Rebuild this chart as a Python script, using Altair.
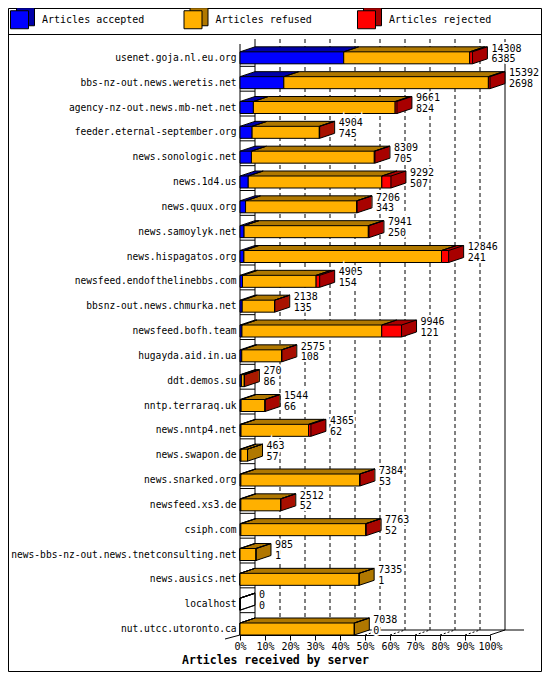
import altair as alt
import pandas as pd

HOSTS = ["usenet.goja.nl.eu.org", "bbs-nz-out.news.weretis.net", "agency-nz-out.news.mb-net.net",
         "feeder.eternal-september.org", "news.sonologic.net", "news.1d4.us", "news.quux.org",
         "news.samoylyk.net", "news.hispagatos.org", "newsfeed.endofthelinebbs.com",
         "bbsnz-out.news.chmurka.net", "newsfeed.bofh.team", "hugayda.aid.in.ua", "ddt.demos.su",
         "nntp.terraraq.uk", "news.nntp4.net", "news.swapon.de", "news.snarked.org",
         "newsfeed.xs3.de", "csiph.com", "news-bbs-nz-out.news.tnetconsulting.net",
         "news.ausics.net", "localhost", "nut.utcc.utoronto.ca"]
TOTAL = [14308, 15392, 9661, 4904, 8309, 9292, 7206, 7941, 12846, 4905, 2138, 9946,
         2575, 270, 1544, 4365, 463, 7384, 2512, 7763, 985, 7335, 0, 7038]
ACCEPTED = [6385, 2698, 824, 745, 705, 507, 343, 250, 241, 154, 135, 121,
            108, 86, 66, 62, 57, 53, 52, 52, 1, 1, 0, 0]
REFUSED = [7758, 12594, 8727, 4139, 7564, 8225, 6838, 7651, 12165, 4531, 1993, 8605,
           2452, 180, 1468, 4163, 406, 7316, 2450, 7691, 984, 7334, 0, 7038]
REJECTED = [165, 100, 110, 20, 40, 560, 25, 40, 440, 220, 10, 1220,
            15, 4, 10, 140, 0, 15, 10, 20, 0, 0, 0, 0]
SERIES = ["Articles accepted", "Articles refused", "Articles rejected"]
TICK_PCT = [0, 10, 20, 30, 40, 50, 60, 70, 80, 90, 100]
X_TITLE = "Articles received by server"

FRONT = ["#0000FF", "#FFB000", "#FF0000"]
DARK = ["#0000A8", "#B07800", "#A80000"]
FONT = "DejaVu Sans Mono"

MAX_T = max(TOTAL)
TOT_W, TOT_H = 534, 664
PAD_L, PAD_T = 232, 31
W, H = 250, 596
PAD_R = TOT_W - PAD_L - W
PAD_B = TOT_H - PAD_T - H
DX, DY = 15, 5
BAR = 12
STEP = H / len(HOSTS)
YOFF = STEP / 2 - BAR / 2          # bar centre relative to band centre
TOP = STEP / 2 - BAR               # bar top relative to band centre
BOT = STEP / 2                     # bar bottom relative to band centre
LEG_X, LEG_Y = 2 - PAD_L, -29
LEG_LABEL_OFF = 13
LEG_LABEL_W = max(len(s) for s in SERIES) * 6.02   # widest legend label (mono 10px)

# ---- tables -------------------------------------------------------------
rows = []
for h, a, r, j in zip(HOSTS, ACCEPTED, REFUSED, REJECTED):
    s = 0
    for k, (name, v) in enumerate(zip(SERIES, (a, r, j))):
        rows.append(dict(host=h, series=name, idx=k, value=v, start=s, end=s + v))
        s += v
seg = pd.DataFrame(rows)

last = []
for a, r, j in zip(ACCEPTED, REFUSED, REJECTED):
    last.append(SERIES[2] if j > 0 else (SERIES[1] if r > 0 else SERIES[0]))
hosts = pd.DataFrame(dict(host=HOSTS, total=TOTAL, accepted=ACCEPTED, last=last))
ticks = pd.DataFrame(dict(pct=TICK_PCT, gv=[MAX_T * p / 100 for p in TICK_PCT]))
dummy = pd.DataFrame(dict(a=[0]))

# ---- shared encodings ---------------------------------------------------
xscale = alt.Scale(domain=[0, MAX_T], nice=False, zero=True)
xaxis = alt.Axis(values=[MAX_T * p / 100 for p in TICK_PCT],
                 labelExpr=f"round(datum.value / {MAX_T} * 100) + '%'",
                 title=X_TITLE, grid=False, domainColor="black", tickColor="black",
                 tickSize=5, labelFont=FONT, labelFontSize=10, labelColor="black",
                 labelPadding=1, labelOverlap=False, labelFlush=False,
                 titleFont=FONT, titleFontSize=11.5, titleFontWeight="bold",
                 titleColor="black", titleX=TOT_W / 2 - PAD_L, titleY=25,
                 titleBaseline="middle", titleAlign="center")
yscale = alt.Scale(domain=HOSTS, paddingInner=0, paddingOuter=0)
yaxis = alt.Axis(title=None, ticks=False, domain=False, labelFont=FONT, labelFontSize=9.6,
                 labelColor="black", labelPadding=4, labelOffset=YOFF, labelLimit=400,
                 labelOverlap=False, grid=False)


def X(f):
    return alt.X(f"{f}:Q", scale=xscale, axis=xaxis)


def X2(f):
    return alt.X2(f"{f}:Q")


def Y(bp=None):
    if bp is None:
        return alt.Y("host:N", scale=yscale, axis=yaxis, sort=HOSTS)
    return alt.Y("host:N", scale=yscale, axis=yaxis, sort=HOSTS, bandPosition=bp)


def Y2(bp=0.5):
    return alt.Y2("host:N", bandPosition=bp)


common_leg = dict(title=None, orient="none", direction="horizontal", columns=3, columnPadding=36.5,
                  gridAlign="all", symbolType="square", symbolSize=324,
                  symbolStrokeColor="black", symbolStrokeWidth=1, symbolOpacity=1,
                  labelFont=FONT, labelFontSize=10, labelColor="black", labelLimit=300)
front_legend = alt.Legend(legendX=LEG_X, legendY=LEG_Y, labelOffset=LEG_LABEL_OFF, **common_leg)
# back of the legend cubes: same layout, no label text
back_legend = alt.Legend(legendX=LEG_X + 6, legendY=LEG_Y - 3, labelExpr="''",
                         labelOffset=LEG_LABEL_OFF + LEG_LABEL_W, **common_leg)

dark_scale = alt.Scale(domain=SERIES, range=DARK)
front_scale = alt.Scale(domain=SERIES, range=FRONT)

layers = []

# frame + legend separator
layers.append(alt.Chart(dummy).mark_rect(fill="white", fillOpacity=0, stroke="black", strokeWidth=1).encode(
    x=alt.value(-PAD_L + 0.5), x2=alt.value(TOT_W - PAD_L - 0.5),
    y=alt.value(-PAD_T + 0.5), y2=alt.value(TOT_H - PAD_T - 0.5)))
layers.append(alt.Chart(dummy).mark_rule(color="black").encode(
    x=alt.value(-PAD_L), x2=alt.value(TOT_W - PAD_L), y=alt.value(-4.5)))

# back wall lines
layers.append(alt.Chart(ticks).transform_filter("datum.pct == 0 || datum.pct == 100").mark_rule(
    color="black", xOffset=DX).encode(x=X("gv"), y=alt.value(0), y2=alt.value(H - DY)))
layers.append(alt.Chart(ticks).transform_filter("datum.pct > 0 && datum.pct < 100").mark_rule(
    color="black", xOffset=DX, strokeDash=[4, 3]).encode(x=X("gv"), y=alt.value(0), y2=alt.value(H - DY)))
# floor
layers.append(alt.Chart(dummy).mark_rule(color="black").encode(
    x=alt.value(DX), x2=alt.value(W + DX + 19), y=alt.value(H - DY)))
layers.append(alt.Chart(ticks).transform_filter("datum.pct < 100").mark_rule(
    color="black", x2Offset=DX, strokeDash=[2, 2]).encode(
    x=X("gv"), x2=X2("gv"), y=alt.value(H), y2=alt.value(H - DY)))
layers.append(alt.Chart(ticks).transform_filter("datum.pct == 100").mark_rule(
    color="black", x2Offset=DX).encode(x=X("gv"), x2=X2("gv"), y=alt.value(H), y2=alt.value(H - DY)))
layers.append(alt.Chart(dummy).mark_rule(color="black").encode(
    x=alt.value(0), x2=alt.value(-DX), y=alt.value(H), y2=alt.value(H + 4)))
# left wall
layers.append(alt.Chart(dummy).mark_rule(color="black").encode(
    x=alt.value(0), y=alt.value(DY), y2=alt.value(H)))
layers.append(alt.Chart(hosts).transform_filter(f"datum.host != '{HOSTS[-1]}'").mark_rule(
    color="black", yOffset=2.5).encode(x=alt.value(0), x2=alt.value(DX), y=Y(1)))

# hidden bottom-left edge
layers.append(alt.Chart(seg).transform_filter("datum.idx == 0").mark_rule(
    color="black", x2Offset=DX, yOffset=BOT, y2Offset=BOT - DY).encode(
    x=X("start"), x2=X2("start"), y=Y(0.5), y2=Y2(0.5)))

# depth copies (top faces); the farthest one also carries the dark legend cube backs
for i in range(DX, 0, -1):
    if i == DX:
        col = alt.Color("series:N", scale=dark_scale, sort=SERIES, legend=back_legend)
    else:
        col = alt.Color("series:N", scale=dark_scale, legend=None)
    layers.append(alt.Chart(seg).mark_bar(size=BAR, xOffset=i, x2Offset=i, yOffset=YOFF - i * DY / DX).encode(
        x=X("start"), x2=X2("end"), y=Y(), color=col))
# side faces
for i in range(1, DX):
    layers.append(alt.Chart(hosts).transform_filter("datum.total > 0").mark_bar(
        size=BAR, xOffset=i - 1, x2Offset=i, yOffset=YOFF - i * DY / DX).encode(
        x=X("total"), x2=X2("total"), y=Y(),
        color=alt.Color("last:N", scale=dark_scale, legend=None)))

# front faces
layers.append(alt.Chart(seg).mark_bar(size=BAR, yOffset=YOFF, stroke="black", strokeWidth=1).encode(
    x=X("start"), x2=X2("end"), y=Y(),
    color=alt.Color("series:N", scale=front_scale, sort=SERIES, legend=front_legend),
    order=alt.Order("idx:Q")))

# box edges
for f in ("start", "end"):
    layers.append(alt.Chart(seg).mark_rule(color="black", x2Offset=DX, yOffset=TOP, y2Offset=TOP - DY).encode(
        x=X(f), x2=X2(f), y=Y(0.5), y2=Y2(0.5)))
layers.append(alt.Chart(seg).transform_filter("datum.value > 0").mark_rule(
    color="black", xOffset=DX, x2Offset=DX, yOffset=TOP - DY).encode(
    x=X("start"), x2=X2("end"), y=Y(0.5)))
layers.append(alt.Chart(hosts).mark_rule(color="black", xOffset=DX, yOffset=TOP - DY, y2Offset=BOT - DY).encode(
    x=X("total"), y=Y(0.5), y2=Y2(0.5)))
layers.append(alt.Chart(hosts).mark_rule(color="black", x2Offset=DX, yOffset=BOT, y2Offset=BOT - DY).encode(
    x=X("total"), x2=X2("total"), y=Y(0.5), y2=Y2(0.5)))

# value labels (white halo first, then the text)
for field, dy in (("total", TOP - 3.3), ("accepted", TOP + 7.5)):
    for halo in (True, False):
        kw = dict(align="left", baseline="middle", dx=19, dy=dy, font=FONT, fontSize=10)
        if halo:
            kw.update(color="white", stroke="white", strokeWidth=4)
        else:
            kw.update(color="black")
        layers.append(alt.Chart(hosts).mark_text(**kw).encode(
            x=X("total"), y=Y(), text=alt.Text(f"{field}:Q", format="d")))

chart = alt.layer(*layers).resolve_scale(color="independent").properties(
    width=W, height=H,
    autosize=alt.AutoSizeParams(type="none"),
    padding={"left": PAD_L, "top": PAD_T, "right": PAD_R, "bottom": PAD_B},
    background="white",
).configure_view(strokeWidth=0)

chart.save("out.html", embed_options={"renderer": "svg", "actions": False})
